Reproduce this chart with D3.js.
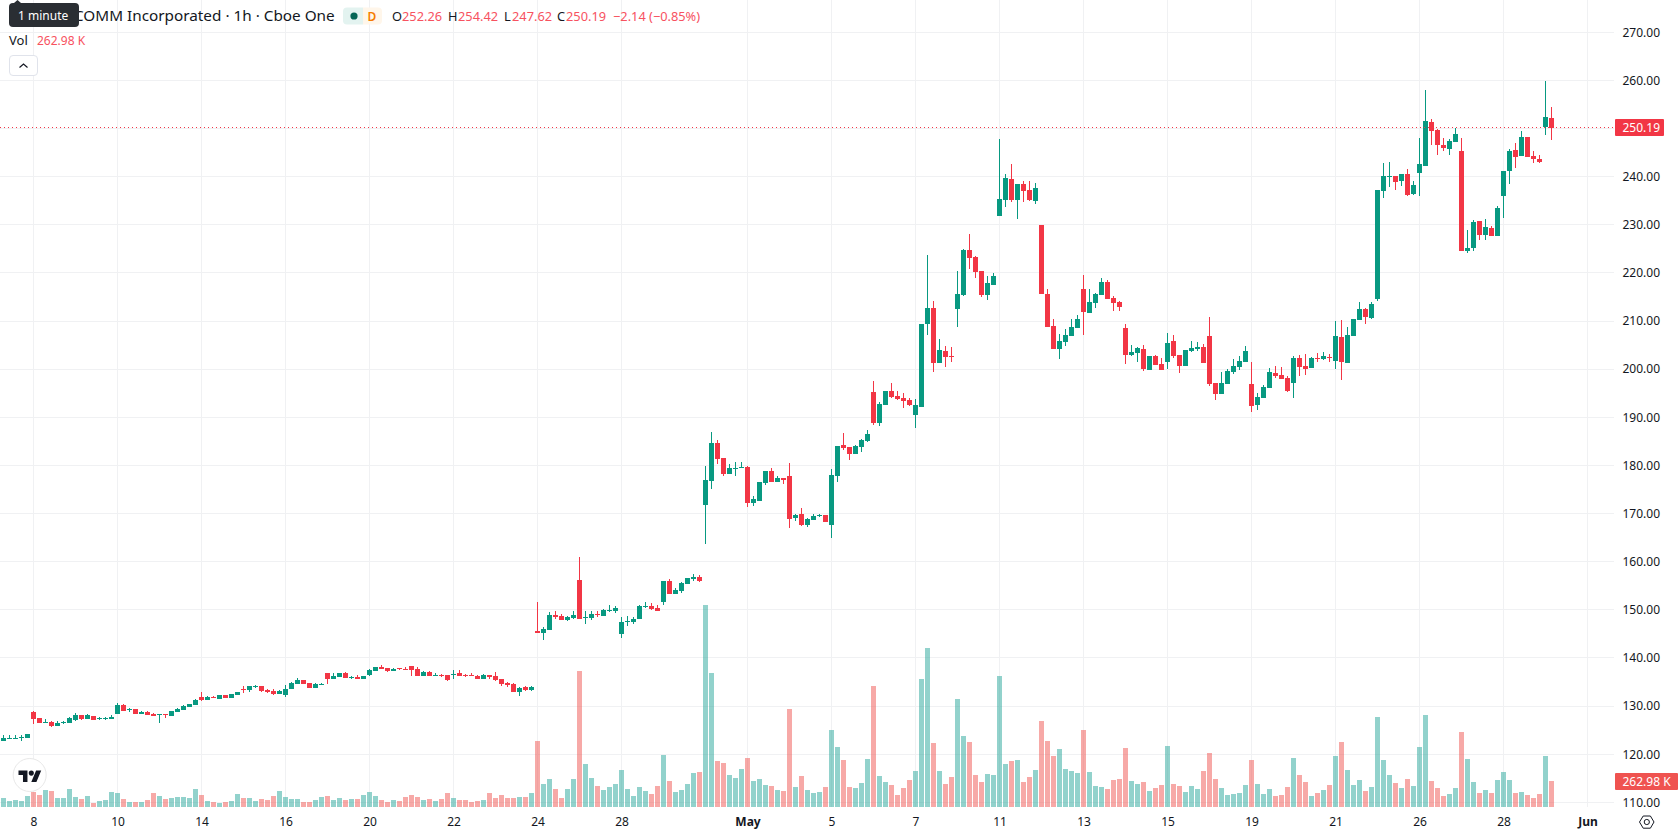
<!DOCTYPE html>
<html>
<head>
<meta charset="utf-8">
<title>COMM Incorporated · 1h · Cboe One</title>
<script src="https://cdn.jsdelivr.net/npm/d3@7"></script>
<style>
  html, body { margin: 0; padding: 0; background: #fff; overflow: hidden; }
  svg { display: block; }
  text { font-family: "Noto Sans", "Open Sans", sans-serif; fill: #131722; }
</style>
</head>
<body>
<svg id="chart" width="1678" height="835"></svg>
<script>
// Hourly candles, oldest first
const opens = [
  122.77,123.19,123.19,123.39,123.39,128.86,127.55,126.51,126.72,125.89,
  126.51,126.51,127.13,128.17,127.34,127.96,127.34,127.34,127.34,128.38,
  130.25,129.21,129.42,128.38,128.80,128.38,128.17,128.38,127.96,128.80,
  129.21,129.83,130.25,131.91,131.29,131.91,131.50,132.33,131.70,132.33,
  133.57,133.37,133.99,134.20,133.37,133.16,132.53,132.33,133.57,134.61,
  135.44,134.75,133.78,134.40,136.90,135.65,136.07,136.90,135.86,136.07,
  135.65,136.48,137.31,138.14,137.94,137.31,137.94,137.73,138.35,137.73,
  136.27,137.11,136.27,136.48,136.48,136.48,136.90,136.48,136.48,136.27,
  135.65,136.48,136.27,135.65,134.82,134.61,132.95,133.99,133.37,
  145.62,145.20,145.82,148.94,148.73,147.90,148.32,156.21,148.32,148.32,
  149.15,148.73,149.77,149.70,144.99,147.49,147.49,148.11,150.60,150.81,
  150.39,151.64,156.00,153.30,153.93,155.38,156.42,156.83,171.79,176.78,
  184.67,181.56,178.23,179.27,179.48,179.69,172.21,172.62,176.36,178.86,
  176.57,177.40,177.82,169.09,169.92,167.64,168.68,169.51,169.72,167.64,
  177.82,184.26,183.84,182.39,183.84,185.09,195.26,188.82,192.56,195.47,
  194.43,194.02,193.60,190.48,192.15,209.39,212.71,201.29,203.78,202.74,
  212.51,215.41,224.76,223.31,220.40,215.41,217.49,231.83,235.15,239.51,
  235.15,238.48,237.23,234.94,229.96,215.62,208.97,204.20,205.65,206.90,
  208.56,216.66,211.68,213.75,215.41,218.12,214.79,213.96,208.56,202.95,
  203.37,204.20,199.83,202.74,201.08,201.50,205.86,202.95,200.66,203.78,
  204.20,204.61,206.94,197.17,194.89,196.97,199.46,200.50,201.54,196.97,
  192.60,194.06,196.14,199.25,198.84,198.21,197.17,202.37,200.71,200.29,
  202.37,202.16,202.58,201.74,206.73,201.33,206.94,210.26,212.55,210.68,
  214.63,237.06,239.97,240.18,239.14,240.59,236.44,240.80,242.26,251.40,
  249.74,246.62,245.79,247.24,245.37,224.60,225.22,230.83,227.92,229.38,
  227.71,236.02,241.22,245.58,244.33,248.28,244.33,243.71,250.36,252.26
];
const highs = [
  124.02,124.02,124.02,124.02,124.22,129.07,127.55,127.34,126.92,126.92,
  126.92,127.76,128.59,128.24,128.38,127.96,127.76,127.76,128.17,130.66,
  130.46,129.63,129.42,129.00,129.00,128.59,128.38,128.38,129.00,129.63,
  130.25,130.46,131.50,132.95,132.12,132.12,132.33,132.33,132.53,132.95,
  134.20,134.20,134.40,134.20,133.57,133.57,133.37,134.40,135.03,135.86,
  135.44,134.75,134.89,134.89,136.90,136.90,136.90,137.11,136.27,136.48,
  136.27,137.73,138.14,138.56,137.94,137.94,137.94,138.14,138.35,138.14,
  137.31,137.31,136.90,136.69,136.48,137.52,137.52,136.69,136.90,136.48,
  136.69,136.48,137.11,135.65,135.03,134.82,133.99,134.20,134.20,
  151.64,146.45,149.56,149.77,149.15,148.73,149.77,160.99,149.77,149.77,
  149.77,150.19,151.02,150.81,148.52,148.73,148.52,151.02,151.64,151.43,
  151.02,156.00,156.42,154.55,155.80,156.63,157.46,157.25,179.90,186.96,
  185.30,181.56,180.31,180.73,180.73,179.90,173.66,176.57,178.86,179.48,
  177.82,177.40,180.52,169.92,171.17,169.09,169.92,169.92,169.72,179.27,
  184.05,186.75,183.84,184.26,185.50,187.37,197.55,193.19,195.47,197.13,
  195.47,195.06,194.02,193.81,209.39,223.72,214.17,206.27,204.82,204.61,
  220.40,224.97,228.09,223.52,220.40,219.36,219.99,247.82,240.55,242.63,
  238.48,239.10,239.10,238.68,229.96,216.66,210.43,207.31,208.35,210.43,
  211.26,219.57,216.66,215.83,218.95,218.53,215.21,214.17,209.39,205.03,
  204.61,205.03,202.74,202.95,202.33,207.52,207.10,202.95,203.99,205.86,
  205.65,205.24,210.89,197.17,199.46,200.08,202.16,202.78,204.86,201.54,
  195.10,196.76,200.29,200.71,200.50,198.63,202.78,202.99,203.20,202.58,
  203.41,203.61,203.20,210.05,210.26,208.81,210.47,214.00,212.76,214.00,
  237.27,242.88,243.09,240.18,240.59,241.63,239.14,248.07,258.04,252.02,
  249.94,248.07,247.87,250.15,248.07,228.96,231.04,230.83,231.25,229.79,
  233.95,241.22,245.79,247.03,249.53,248.28,245.37,244.54,259.92,254.42
];
const lows = [
  122.77,123.19,123.19,122.77,123.39,126.30,126.51,126.51,125.68,125.89,
  126.30,126.51,126.92,127.13,127.34,127.13,127.13,127.13,127.34,128.38,
  129.00,128.80,128.38,128.38,128.17,127.96,126.51,127.55,127.96,128.80,
  129.21,129.83,130.25,131.08,131.29,131.70,131.50,131.70,131.70,132.33,
  132.74,132.95,133.78,132.95,132.74,132.33,132.53,131.91,133.57,134.61,
  134.61,133.78,133.78,134.40,134.61,135.65,136.07,135.86,135.72,135.65,
  135.65,136.27,137.31,137.73,137.11,137.31,137.52,137.52,136.27,136.27,
  136.27,136.27,136.27,136.07,135.24,135.65,136.27,136.07,136.27,135.65,
  135.65,135.65,135.24,134.20,133.99,132.95,132.12,133.16,133.16,
  145.20,143.75,145.82,148.11,147.90,147.69,148.11,148.11,147.07,147.90,
  148.52,148.73,149.56,149.36,144.16,146.66,147.07,148.11,150.39,149.98,
  149.77,151.02,153.30,153.30,153.51,155.38,156.00,155.80,163.69,175.12,
  180.31,177.82,178.23,177.82,179.48,171.38,171.59,172.62,175.95,176.57,
  176.57,176.16,167.01,168.47,167.43,167.22,168.68,169.30,168.26,164.94,
  176.57,183.22,181.14,182.39,182.80,184.88,188.41,188.20,192.56,194.02,
  193.60,191.94,192.35,187.78,192.15,207.10,199.42,201.29,200.46,201.50,
  208.77,215.21,220.82,218.95,215.00,214.38,217.49,231.83,233.70,234.74,
  231.20,234.74,234.94,234.32,215.62,208.77,204.20,202.12,204.82,206.90,
  208.56,207.10,211.68,212.71,215.41,214.58,212.09,212.09,201.08,202.74,
  201.50,199.63,199.83,200.87,199.83,200.04,202.33,199.21,200.66,203.57,
  203.78,201.29,196.55,193.64,194.89,196.97,199.04,199.88,201.54,191.15,
  191.57,194.06,196.14,198.21,198.01,195.30,194.06,198.63,198.84,200.29,
  201.54,201.95,201.54,200.08,197.80,201.33,206.94,210.26,209.43,210.47,
  214.21,235.61,237.89,237.27,238.10,236.02,236.23,236.02,242.26,246.62,
  244.54,245.37,244.54,247.24,224.60,224.18,224.60,226.88,226.88,227.71,
  227.71,231.45,238.52,241.84,244.33,244.13,242.88,242.88,248.70,247.62
];
const closes = [
  123.39,123.39,123.39,123.60,124.22,127.34,126.51,126.72,125.89,126.51,
  126.72,127.55,128.17,127.34,128.17,127.13,127.55,127.55,127.76,130.25,
  129.00,129.42,128.38,128.80,128.17,127.96,128.38,128.17,129.00,129.42,
  130.04,130.46,131.29,131.29,131.91,131.70,132.33,131.70,132.53,132.95,
  133.37,134.20,134.20,133.16,132.95,132.53,133.16,133.57,134.82,135.44,
  134.61,133.78,134.61,134.61,135.65,136.27,136.90,135.86,136.07,135.72,
  136.27,137.52,138.14,137.73,137.31,137.73,137.73,137.52,137.52,136.27,
  137.11,136.27,136.48,136.27,135.44,136.69,136.27,136.27,136.27,135.65,
  136.48,136.07,135.44,134.61,134.40,132.95,133.78,133.37,133.99,
  145.20,146.03,148.94,148.52,147.90,148.52,148.94,148.11,148.52,149.15,
  148.94,149.98,149.98,150.39,147.49,147.69,148.11,150.81,150.81,150.19,
  149.77,156.00,153.30,154.13,155.59,156.63,156.83,156.00,176.99,184.67,
  181.35,178.23,179.48,179.48,179.69,172.21,173.04,176.57,178.86,176.57,
  177.40,176.99,168.88,169.72,167.64,168.88,169.51,169.72,168.26,178.03,
  184.05,183.63,182.39,184.05,185.30,186.54,188.82,192.77,195.47,194.22,
  193.81,193.39,192.56,192.56,209.39,212.71,201.29,203.99,202.53,202.53,
  215.62,224.76,223.10,220.19,215.41,217.91,219.36,235.36,239.72,235.15,
  238.48,237.02,235.15,237.64,215.62,208.77,204.20,205.86,207.10,208.77,
  210.43,211.88,213.96,215.62,218.12,214.58,213.75,212.92,202.95,203.57,
  204.40,200.04,202.74,200.87,199.83,205.44,202.74,200.66,203.99,204.40,
  204.61,201.29,196.97,194.89,197.17,199.67,200.71,201.74,203.82,192.40,
  194.27,196.34,199.46,198.63,198.01,195.51,202.37,200.50,200.08,202.37,
  202.16,202.78,202.37,206.94,201.54,207.15,210.47,212.55,210.89,213.59,
  237.27,240.18,240.18,238.93,240.59,236.23,238.31,242.67,251.60,249.53,
  246.62,246.00,247.45,248.90,224.60,225.22,230.62,227.92,229.58,227.71,
  233.53,241.22,245.37,244.13,248.28,244.13,243.71,243.09,252.44,250.19
];
// Traded volume per candle, in thousands of shares
const volumes = [
  91,61,71,61,111,155,121,172,162,91,
  91,182,101,81,111,40,61,71,152,142,
  81,51,51,51,71,142,111,81,91,101,
  101,91,182,121,61,51,40,51,61,131,
  91,91,61,81,71,111,162,101,81,81,
  51,51,71,101,111,71,91,71,81,81,
  121,152,111,71,51,71,61,101,121,101,
  71,81,61,81,142,91,71,71,51,61,
  71,142,91,121,91,91,101,101,142,
  667,233,283,182,91,182,283,1375,435,293,
  212,172,202,233,374,182,111,202,162,131,
  212,526,263,152,172,233,344,354,2042,1355,
  465,445,324,293,384,495,263,283,222,212,
  172,162,991,202,313,172,142,152,202,778,
  607,475,202,192,243,485,1223,313,253,222,
  121,192,273,364,1294,1607,647,364,233,303,
  1092,718,657,324,253,334,324,1324,435,465,
  475,253,303,374,869,667,516,586,384,364,
  344,778,354,212,202,182,273,283,596,263,
  233,253,162,192,222,617,233,212,152,212,
  182,364,546,283,192,121,131,142,222,475,
  233,131,182,111,121,202,495,324,253,111,
  142,172,222,516,657,374,222,273,162,202,
  910,475,324,243,192,283,212,607,930,263,
  192,111,131,192,758,485,253,142,172,142,
  273,354,273,142,152,121,91,131,516,262.98
];

// Time axis: label text and the candle slot each one sits on
const timeLabels = ["8","10","14","16","20","22","24","28","May","5","7","11","13","15","19","21","26","28","Jun"];
const timeSlots  = [5,19,33,47,61,75,89,103,124,138,152,166,180,194,208,222,236,250,264];
const boldLabels = ["May","Jun"];
const priceTicks = [110,120,130,140,150,160,170,180,190,200,210,220,230,240,250,260,270];

const lastOpen = 252.26, lastHigh = 254.42, lastLow = 247.62, lastClose = 250.19;
const lastVolumeLabel = "262.98 K";

const UP = "#089981", DOWN = "#F23645";
const UP_VOL = "#26a69a", DOWN_VOL = "#ef5350";
const GRID = "#f0f1f3";
const paneRight = 1614;

const svg = d3.select("#chart");

const x = d3.scaleLinear().domain([0, 258]).range([3.5, 1551.5]);
const y = d3.scaleLinear().domain([110, 260]).range([802.4, 80.3]);
const vol = d3.scaleLinear().domain([0, 2042]).range([807, 605]);

const bars = d3.range(opens.length).map(i => ({
  i, open: opens[i], high: highs[i], low: lows[i], close: closes[i], volume: volumes[i],
  up: closes[i] >= opens[i]
}));

// Grid
const grid = svg.append("g");
grid.selectAll("rect.h").data(priceTicks).join("rect")
  .attr("class", "h")
  .attr("x", 0).attr("width", paneRight)
  .attr("y", d => Math.floor(y(d))).attr("height", 1)
  .attr("fill", GRID);
grid.selectAll("rect.v").data(timeSlots).join("rect")
  .attr("class", "v")
  .attr("x", d => Math.floor(x(d))).attr("width", 1)
  .attr("y", 0).attr("height", 807)
  .attr("fill", GRID);

// Volume columns
svg.append("g").selectAll("rect").data(bars).join("rect")
  .attr("x", d => x(d.i) - 2.5)
  .attr("width", 5)
  .attr("y", d => Math.round(vol(d.volume)))
  .attr("height", d => 807 - Math.round(vol(d.volume)))
  .attr("fill", d => d.up ? UP_VOL : DOWN_VOL)
  .attr("fill-opacity", 0.5)
  .attr("shape-rendering", "crispEdges");

// Candles: wick, then body
const candles = svg.append("g").attr("shape-rendering", "crispEdges");
candles.selectAll("rect.wick").data(bars).join("rect")
  .attr("class", "wick")
  .attr("x", d => x(d.i) - 0.5)
  .attr("width", 1)
  .attr("y", d => Math.round(y(d.high)))
  .attr("height", d => Math.max(1, Math.round(y(d.low)) - Math.round(y(d.high))))
  .attr("fill", d => d.up ? UP : DOWN);
candles.selectAll("rect.body").data(bars).join("rect")
  .attr("class", "body")
  .attr("x", d => x(d.i) - 2.5)
  .attr("width", 5)
  .attr("y", d => Math.round(y(Math.max(d.open, d.close))))
  .attr("height", d => Math.max(1, Math.round(y(Math.min(d.open, d.close))) - Math.round(y(Math.max(d.open, d.close)))))
  .attr("fill", d => d.up ? UP : DOWN);

// Last price line
svg.append("line")
  .attr("x1", 0).attr("x2", paneRight)
  .attr("y1", Math.floor(y(lastClose)) + 0.5).attr("y2", Math.floor(y(lastClose)) + 0.5)
  .attr("stroke", DOWN).attr("stroke-width", 1).attr("stroke-dasharray", "1 3");

// Price axis
const priceAxis = d3.axisRight(y).tickValues(priceTicks).tickSize(0).tickPadding(0).tickFormat(d3.format(".2f"));
const priceG = svg.append("g").attr("transform", "translate(1622.5,0)").call(priceAxis);
priceG.select(".domain").remove();
priceG.selectAll("text").attr("font-size", 12).attr("font-family", null);

// Time axis
const timeAxis = d3.axisBottom(x).tickValues(timeSlots).tickSize(0).tickPadding(0)
  .tickFormat(d => timeLabels[timeSlots.indexOf(d)]);
const timeG = svg.append("g").attr("transform", "translate(0,817)").call(timeAxis);
timeG.select(".domain").remove();
timeG.selectAll("text")
  .attr("font-size", 12).attr("font-family", null)
  .attr("font-weight", function () { return boldLabels.includes(this.textContent) ? 700 : 400; });

// Value tags on the price scale
const priceTag = svg.append("g");
priceTag.append("rect").attr("x", 1615).attr("y", Math.round(y(lastClose)) - 9).attr("width", 49).attr("height", 17)
  .attr("rx", 1).attr("fill", DOWN);
priceTag.append("text").attr("x", 1622.5).attr("y", y(lastClose)).attr("dy", "0.35em")
  .attr("font-size", 12).style("fill", "#fff").text(d3.format(".2f")(lastClose));

const volTag = svg.append("g");
volTag.append("rect").attr("x", 1615).attr("y", 773).attr("width", 63).attr("height", 17)
  .attr("rx", 1).attr("fill", DOWN_VOL);
volTag.append("text").attr("x", 1622.5).attr("y", 781.5).attr("dy", "0.35em")
  .attr("font-size", 12).style("fill", "#fff").text(lastVolumeLabel);

// Settings hexagon in the corner between the axes
const hexagon = d3.line();
svg.append("path")
  .attr("d", hexagon([[1639.5,822],[1643.2,816],[1650.4,816],[1654,822],[1650.4,828.2],[1643.2,828.2]]) + "Z")
  .attr("fill", "none").attr("stroke", "#131722").attr("stroke-width", 1);
svg.append("circle").attr("cx", 1646.8).attr("cy", 822).attr("r", 2.6)
  .attr("fill", "none").attr("stroke", "#131722").attr("stroke-width", 1);

// Legend line
const down = "#F7525F";
const legend = svg.append("g");
legend.append("text").attr("x", 74).attr("y", 21).attr("font-size", 15.3).text("COMM Incorporated · 1h · Cboe One");

legend.append("path").attr("d", "M347,7.5h16v17h-16a4,4 0 0 1 -4,-4v-9a4,4 0 0 1 4,-4z").attr("fill", "#e3f3f0");
legend.append("path").attr("d", "M363,7.5h15a4,4 0 0 1 4,4v9a4,4 0 0 1 -4,4h-15z").attr("fill", "#fff6ea");
legend.append("circle").attr("cx", 354).attr("cy", 16).attr("r", 3.6).attr("fill", "#056656");
legend.append("text").attr("x", 372).attr("y", 20.5).attr("text-anchor", "middle").attr("font-size", 12)
  .attr("font-weight", 600).style("fill", "#f57c00").text("D");

const ohlc = [
  ["O", 392, lastOpen, 402], ["H", 448, lastHigh, 458], ["L", 504, lastLow, 512], ["C", 557, lastClose, 566]
];
ohlc.forEach(([k, kx, v, vx]) => {
  legend.append("text").attr("x", kx).attr("y", 20.5).attr("font-size", 12.8).text(k);
  legend.append("text").attr("x", vx).attr("y", 20.5).attr("font-size", 12.8).style("fill", down).text(d3.format(".2f")(v));
});
legend.append("text").attr("x", 613).attr("y", 20.5).attr("font-size", 12.8).style("fill", down).text("−2.14 (−0.85%)");

legend.append("text").attr("x", 9).attr("y", 45).attr("font-size", 13).text("Vol");
legend.append("text").attr("x", 37).attr("y", 45).attr("font-size", 12).style("fill", down).text(lastVolumeLabel);

// Collapse button
legend.append("rect").attr("x", 9.5).attr("y", 55.5).attr("width", 28).attr("height", 20).attr("rx", 3.5)
  .attr("fill", "#fff").attr("stroke", "#e0e3eb");
legend.append("path").attr("d", "M19.5,67.5l4,-3.5l4,3.5").attr("fill", "none").attr("stroke", "#131722").attr("stroke-width", 1.2);

// "1 minute" tooltip
const tip = svg.append("g");
tip.append("path").attr("d", "M14,3l3.5,-3l3.5,3z").attr("fill", "#2a2e33");
tip.append("rect").attr("x", 9).attr("y", 3).attr("width", 70).attr("height", 24).attr("rx", 4).attr("fill", "#2a2e33");
tip.append("text").attr("x", 18).attr("y", 19.5).attr("font-size", 12).style("fill", "#fff").text("1 minute");

// Vendor mark in the lower-left corner
const mark = svg.append("g");
mark.append("circle").attr("cx", 29.7).attr("cy", 775).attr("r", 16.5)
  .attr("fill", "#fff").attr("stroke", "#e8e8e8").attr("stroke-width", 1);
const logo = mark.append("g").attr("transform", "translate(18.5,768) scale(0.64)");
logo.append("path").attr("d", "M14 22H7V11H0V4h14v18zM28 22h-8l7.5-18h8L28 22z").attr("fill", "#131722");
logo.append("circle").attr("cx", 20).attr("cy", 8).attr("r", 4).attr("fill", "#131722");
</script>
</body>
</html>
